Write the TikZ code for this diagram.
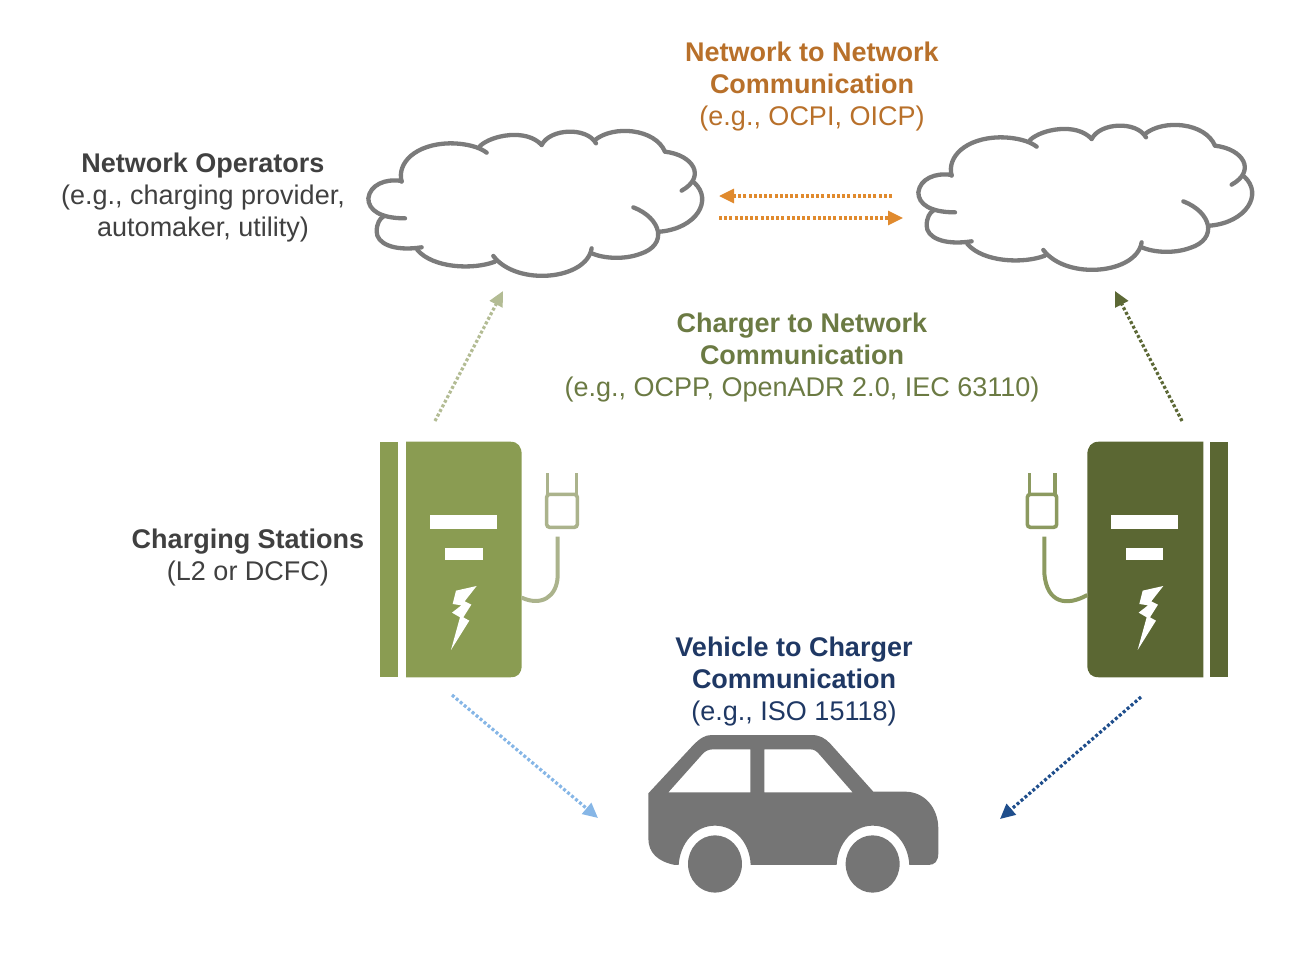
\documentclass[tikz,border=0pt]{standalone}
\usepackage{fontspec}
\setmainfont{Liberation Sans}
\usetikzlibrary{arrows.meta}
\definecolor{cloudgray}{HTML}{7B7B7B}
\definecolor{cargray}{HTML}{757575}
\definecolor{txtgray}{HTML}{404040}
\definecolor{txtorange}{HTML}{B8702A}
\definecolor{txtgreen}{HTML}{6B7A43}
\definecolor{txtnavy}{HTML}{1F3864}
\definecolor{arrorange}{HTML}{E08A2E}
\definecolor{arrlgreen}{HTML}{B3BC94}
\definecolor{arrdgreen}{HTML}{5C6835}
\definecolor{arrlblue}{HTML}{86B6E6}
\definecolor{arrdblue}{HTML}{1F4E8C}
\definecolor{stlight}{HTML}{8A9C52}
\definecolor{stdark}{HTML}{5B6733}
\definecolor{plugl}{HTML}{ABB38C}
\definecolor{plugd}{HTML}{8C9A60}
\tikzset{
  lbl/.style={align=center,font=\fontsize{27}{32}\selectfont,inner sep=0pt},
  dotarrow/.style={line width=3.2pt,dash pattern=on 3pt off 2.2pt,-{Triangle[length=15pt,width=14pt,sep=0pt]}},
  cloudline/.style={draw=cloudgray,line width=4.3pt,line cap=round,fill=none},
}
\newcommand{\mycloud}{%
 \draw[cloudline] (125,185) .. controls (110,130) and (165,72) .. (270,70) .. controls (320,70) and (360,82) .. (380,98);
 \draw[cloudline] (360,78) .. controls (395,45) and (500,25) .. (545,75);
 \draw[cloudline] (545,75) .. controls (570,25) and (680,20) .. (708,70);
 \draw[cloudline] (705,60) .. controls (760,15) and (885,25) .. (915,95);
 \draw[cloudline] (915,95) .. controls (1000,105) and (1040,170) .. (965,212);
 \draw[cloudline] (1003,188) .. controls (1060,240) and (1010,325) .. (900,335);
 \draw[cloudline] (820,262) .. controls (905,295) and (925,375) .. (840,402) .. controls (790,420) and (730,415) .. (695,400);
 \draw[cloudline] (695,385) .. controls (680,480) and (470,500) .. (400,408);
 \draw[cloudline] (405,425) .. controls (340,450) and (220,445) .. (172,390);
 \draw[cloudline] (185,382) .. controls (100,395) and (50,370) .. (50,335) .. controls (50,310) and (60,295) .. (70,290);
 \draw[cloudline] (135,295) .. controls (60,295) and (25,270) .. (25,235) .. controls (30,195) and (75,175) .. (125,183);
}
\newcommand{\mybolt}{%
 (320,468) -- (258,482) -- (248,522) -- (274,526) -- (246,548) -- (270,562) -- (243,660) -- (298,572) -- (280,562) -- (304,524) -- (284,514) -- cycle}
\begin{document}
\begin{tikzpicture}[x=1pt,y=-1pt]
\useasboundingbox (0,0) rectangle (1310,956);
% clouds
\begin{scope}[shift={(360,120)},x=0.3333pt,y=-0.3333pt]\mycloud\end{scope}
\begin{scope}[shift={(910,114)},x=0.3333pt,y=-0.3333pt]\mycloud\end{scope}
% labels
\node[lbl,text=txtgray] (ops) at (203,197.5) {\textbf{Network Operators}\\(e.g., charging provider,\\automaker, utility)};
\node[lbl,text=txtorange] (n2n) at (812,86.5) {\textbf{Network to Network}\\\textbf{Communication}\\(e.g., OCPI, OICP)};
\node[lbl,text=txtgreen] (c2n) at (802,357.5) {\textbf{Charger to Network}\\\textbf{Communication}\\(e.g., OCPP, OpenADR 2.0, IEC 63110)};
\node[lbl,text=txtgray] (st) at (248,557.5) {\textbf{Charging Stations}\\(L2 or DCFC)};
\node[lbl,text=txtnavy] (v2c) at (794,681.5) {\textbf{Vehicle to Charger}\\\textbf{Communication}\\(e.g., ISO 15118)};
% station 1
\begin{scope}[shift={(370,430)},x=0.3333pt,y=-0.3333pt]
 \fill[stlight] (30,35) rectangle (85,742);
 \fill[stlight] (108,35) -- (420,35) .. controls (445,35) and (455,50) .. (455,75) -- (455,705) .. controls (455,730) and (445,742) .. (420,742) -- (108,742) -- cycle;
 \fill[white] (180,255) rectangle (380,298);
 \fill[white] (225,355) rectangle (340,390);
 \fill[white] \mybolt;
 \draw[plugl,line width=3.6pt] (533,130) -- (533,195) (620,130) -- (620,195);
 \draw[plugl,line width=3.6pt,rounded corners=3pt] (530,193) rectangle (622,292);
 \draw[plugl,line width=4pt] (563,320) -- (563,440) .. controls (560,500) and (515,530) .. (455,503);
\end{scope}
% station 2
\begin{scope}[shift={(1010,430)},x=0.3333pt,y=-0.3333pt]
 \fill[stdark] (600,35) rectangle (655,742);
 \fill[stdark] (580,35) -- (268,35) .. controls (243,35) and (232,50) .. (232,75) -- (232,705) .. controls (232,730) and (243,742) .. (268,742) -- (580,742) -- cycle;
 \fill[white] (302,255) rectangle (503,298);
 \fill[white] (348,355) rectangle (460,390);
 \begin{scope}[shift={(140,0)}]\fill[white] \mybolt;\end{scope}
 \draw[plugd,line width=3.6pt] (58,130) -- (58,195) (135,130) -- (135,195);
 \draw[plugd,line width=3.6pt,rounded corners=3pt] (52,193) rectangle (140,292);
 \draw[plugd,line width=4pt] (103,320) -- (103,430) .. controls (110,520) and (170,530) .. (232,495);
\end{scope}
% car
\begin{scope}[shift={(630,725)},x=0.3333pt,y=-0.3333pt]
 \fill[cargray,even odd rule]
  (55,205) -- (190,60) .. controls (210,40) and (225,30) .. (245,30) -- (545,30) .. controls (570,30) and (585,40) .. (600,55) -- (730,200) -- (825,200) .. controls (885,200) and (925,250) .. (925,310) -- (925,385) .. controls (925,408) and (915,420) .. (895,420) -- (838,420)
  .. controls (835,355) and (790,302) .. (728,302) .. controls (670,302) and (623,355) .. (620,420) -- (362,420)
  .. controls (360,355) and (315,302) .. (255,302) .. controls (195,302) and (150,355) .. (146,420) -- (135,420) .. controls (85,410) and (55,385) .. (55,340) -- cycle
  (115,202) -- (215,90) .. controls (225,78) and (235,73) .. (250,73) -- (361,73) -- (361,202) -- cycle
  (403,73) -- (540,73) .. controls (552,73) and (560,78) .. (568,88) -- (668,202) -- (403,202) -- cycle;
 \fill[cargray] (255,417) ellipse [x radius=81,y radius=86];
 \fill[cargray] (728,417) ellipse [x radius=81,y radius=86];
\end{scope}
% arrow ends
\coordinate (o1s) at (892,196); \coordinate (o1e) at (719,196);
\coordinate (o2s) at (719,218); \coordinate (o2e) at (903,218);
\coordinate (g1s) at (435,421); \coordinate (g1e) at (503,291);
\coordinate (g2s) at (1182,421); \coordinate (g2e) at (1115,291);
\coordinate (b1s) at (452,695); \coordinate (b1e) at (598,818);
\coordinate (b2s) at (1141,697); \coordinate (b2e) at (1000,819);
\draw[dotarrow,arrorange] (o1s) -- (o1e);
\draw[dotarrow,arrorange] (o2s) -- (o2e);
\draw[dotarrow,arrlgreen] (g1s) -- (g1e);
\draw[dotarrow,arrdgreen] (g2s) -- (g2e);
\draw[dotarrow,arrlblue] (b1s) -- (b1e);
\draw[dotarrow,arrdblue] (b2s) -- (b2e);
\end{tikzpicture}
\end{document}
